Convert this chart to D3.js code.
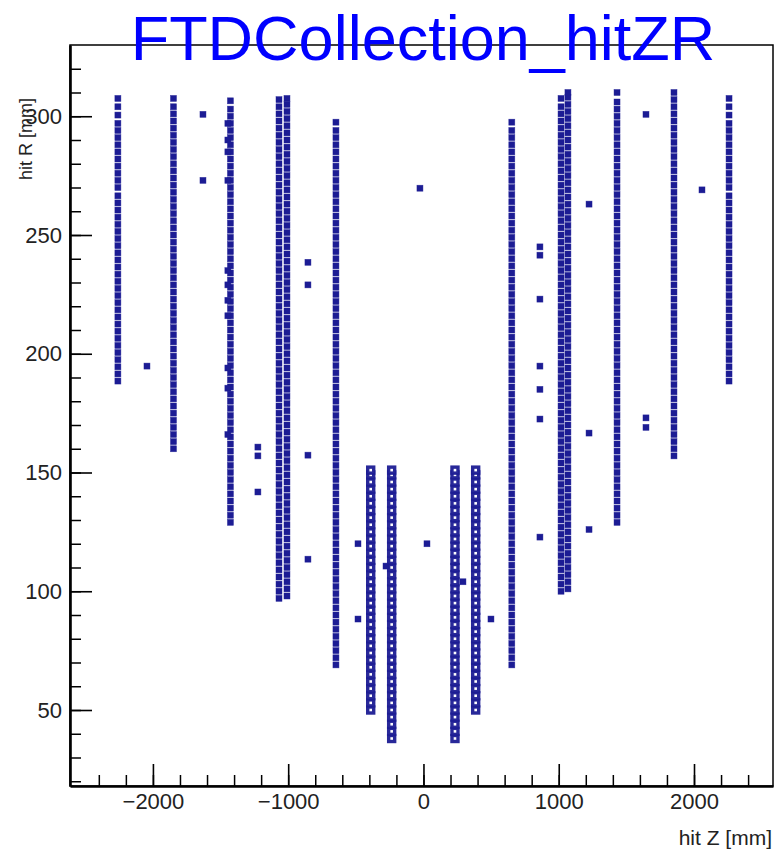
<!DOCTYPE html>
<html>
<head>
<meta charset="utf-8">
<script src="https://cdn.jsdelivr.net/npm/d3@7"></script>
<style>
body { margin: 0; background: #fff; }
text { font-family: "Liberation Sans", Arial, Helvetica, sans-serif; }
</style>
</head>
<body>
<svg id="chart" width="776" height="855"></svg>
<script>
// hit R (mm) of every marker, one list per disc column
var rA = [188.5,191.5,194.5,197.5,200.5,203.5,206.5,209.5,212.5,215.5,218.5,221.5,224.5,227.5,230.5,233.5,236.5,239.5,242.5,245.5,248.5,251.5,254.5,257.5,260.5,263.5,266.5,270,273,276,279,282,285,288,291,294,297,300.5,304,307.5];
var rB = [160,163,166,169,172,175,178,181,184,187,190,193,196,199,202,205,208,211,214,217,220,223,226,229,232,235,238,241,244,247,250,253,256,259,262,265,268,271,274,277,280,283,286,289,292,295,298,301,304,307.5];
var rC = [129,132,135,138,141,144,147,150,153,156,159,162,165,168,171,174,177,180,183,186,189,192,195,198,201,204,207,210,213,216,219,222,225,228,231,234,237,240,243,246,249,252,255,258,261,264,267,270,273,276,279,282,285,288,291,294,297,300,303,306.5];
var rCj = [166,185.5,194,216,222.5,229,235,273,285,290,297];
var rD1 = [97,100,103,106,109,112,115,118,121,124,127,130,133,136,139,142,145,148,151,154,157,160,163,166,169,172,175,178,181,184,187,190,193,196,199,202,205,208,211,214,217,220,223,226,229,232,235,238,241,244,247,250,253,256,259,262,265,268,271,274,277,280,283,286,289,292,295,298,301,304,307];
var rD2 = [98,101,104,107,110,113,116,119,122,125,128,131,134,137,140,143,146,149,152,155,158,161,164,167,170,173,176,179,182,185,188,191,194,197,200,203,206,209,212,215,218,221,224,227,230,233,236,239,242,245,248,251,254,257,260,263,266,269,272,275,278,281,284,287,290,293,296,299,302,305,307.5];
var rE = [69,72,75,78,81,84,87,90,93,96,99,102,105,108,111,114,117,120,123,126,129,132,135,138,141,144,147,150,153,156,159,162,165,168,171,174,177,180,183,186,189,192,195,198,201,204,207,210,213,216,219,222,225,228,231,234,237,240,243,246,249,252,255,258,261,264,267,270,273,276,279,282,285,288,291,294,297.5];
var rF = [50,53,56,59,62,65,68,71,74,77,80,83,86,89,92,95,98,101,104,107,110,113,116,119,122,125,128,131,134,137,140,143,146,149,151];
var rG = [38,41,44,47,50,53,56,59,62,65,68,71,74,77,80,83,86,89,92,95,98,101,104,107,110,113,116,119,122,125,128,131,134,137,140,143,146,149,151];
var rH = [38,41,44,47,50,53,56,59,62,65,68,71,74,77,80,83,86,89,92,95,98,101,104,107,110,113,116,119,122,125,128,131,134,137,140,143,146,149,151];
var rI = [50,53,56,59,62,65,68,71,74,77,80,83,86,89,92,95,98,101,104,107,110,113,116,119,122,125,128,131,134,137,140,143,146,149,151];
var rJ = [69,72,75,78,81,84,87,90,93,96,99,102,105,108,111,114,117,120,123,126,129,132,135,138,141,144,147,150,153,156,159,162,165,168,171,174,177,180,183,186,189,192,195,198,201,204,207,210,213,216,219,222,225,228,231,234,237,240,243,246,249,252,255,258,261,264,267,270,273,276,279,282,285,288,291,294,297.5];
var rK1 = [100,103,106,109,112,115,118,121,124,127,130,133,136,139,142,145,148,151,154,157,160,163,166,169,172,175,178,181,184,187,190,193,196,199,202,205,208,211,214,217,220,223,226,229,232,235,238,241,244,247,250,253,256,259,262,265,268,271,274,277,280,283,286,289,292,295,298,301,304,307.5];
var rK2 = [101,104,107,110,113,116,119,122,125,128,131,134,137,140,143,146,149,152,155,158,161,164,167,170,173,176,179,182,185,188,191,194,197,200,203,206,209,212,215,218,221,224,227,230,233,236,239,242,245,248,251,254,257,260,263,266,269,272,275,278,281,284,287,290,293,296,299,302,305,308,310];
var rL = [129,132,135,138,141,144,147,150,153,156,159,162,165,168,171,174,177,180,183,186,189,192,195,198,201,204,207,210,213,216,219,222,225,228,231,234,237,240,243,246,249,252,255,258,261,264,267,270,273,276,279,282,285,288,291,294,297,300,303,306,310];
var rM = [157,160,163,166,169,172,175,178,181,184,187,190,193,196,199,202,205,208,211,214,217,220,223,226,229,232,235,238,241,244,247,250,253,256,259,262,265,268,271,274,277,280,283,286,289,292,295,298,301,304,307,310];
var rN = [188.5,191.5,194.5,197.5,200.5,203.5,206.5,209.5,212.5,215.5,218.5,221.5,224.5,227.5,230.5,233.5,236.5,239.5,242.5,245.5,248.5,251.5,254.5,257.5,260.5,263.5,266.5,270,273,276,279,282,285,288,291,294,297,300.5,304,307.5];

// z (mm) of each column
var colZ = [-2259, -1848, -1427, -1446, -1068, -1009, -647, -390, -235, 233, 386, 653, 1017, 1068, 1431, 1852, 2259];
var colR = [rA, rB, rC, rCj, rD1, rD2, rE, rF, rG, rH, rI, rJ, rK1, rK2, rL, rM, rN];
var colOpen = [false, false, false, false, false, false, false, true, true, true, true, false, false, false, false, false, false];

// isolated hits
var strayZ = [-2044, -1630, -1630, -1224, -1224, -1224, -854, -854, -854, -854, -484, -484, -277, -26, 26, 292, 499, 861, 861, 861, 861, 861, 861, 861, 1224, 1224, 1224, 1645, 1645, 1645, 2059];
var strayR = [194.8, 300.8, 273, 160.7, 157, 141.8, 238.5, 229, 157.3, 113.5, 120, 88.3, 110.6, 269.7, 120, 104, 88.3, 245, 241.5, 223, 194.8, 185, 172.5, 122.8, 263, 166.6, 126, 300.8, 173, 169, 269];

var xMajor = [-2000, -1000, 0, 1000, 2000];
var yMajor = [50, 100, 150, 200, 250, 300];
var xMinor = d3.range(-2400, 2500, 200);
var yMinor = d3.range(20, 330, 10);

var svg = d3.select("#chart");
var padL = 70, padR = 773, padT = 45, padB = 786;

var x = d3.scaleLinear().domain([-2613, 2584]).range([padL, padR]);
var y = d3.scaleLinear().domain([18, 330]).range([padB, padT]);

var points = [];
colZ.forEach(function(z, i){
  colR[i].forEach(function(r){ points.push({z: z, r: r, open: colOpen[i]}); });
});
strayZ.forEach(function(z, i){ points.push({z: z, r: strayR[i], open: false}); });

var blue = "#1c1c94";
var ms = 6;
svg.append("g").selectAll("rect").data(points).join("rect")
  .attr("x", function(d){ return x(d.z) - ms/2; })
  .attr("y", function(d){ return y(d.r) - ms/2; })
  .attr("width", ms).attr("height", ms)
  .attr("fill", function(d){ return d.open ? "#fff" : blue; })
  .attr("stroke", blue)
  .attr("stroke-width", function(d){ return d.open ? 3.4 : 0.6; })
  .attr("stroke-opacity", function(d){ return d.open ? 0.95 : 0.7; });

// frame
svg.append("rect").attr("x", padL).attr("y", padT).attr("width", padR-padL).attr("height", padB-padT)
  .attr("fill", "none").attr("stroke", "#000").attr("stroke-width", 1.5);

// minor ticks
svg.append("g").attr("transform", "translate(" + padL + ",0)")
  .call(d3.axisLeft(y).tickValues(yMinor).tickSizeInner(-11).tickSizeOuter(0).tickFormat(""))
  .call(function(g){ g.select(".domain").remove(); g.selectAll("line").attr("stroke-width", 1.5); });
svg.append("g").attr("transform", "translate(0," + padB + ")")
  .call(d3.axisBottom(x).tickValues(xMinor).tickSizeInner(-11).tickSizeOuter(0).tickFormat(""))
  .call(function(g){ g.select(".domain").remove(); g.selectAll("line").attr("stroke-width", 1.5); });

// major ticks and labels
var yAxis = svg.append("g").attr("transform", "translate(" + padL + ",0)")
  .call(d3.axisLeft(y).tickValues(yMajor).tickSizeInner(-22).tickSizeOuter(0).tickPadding(8).tickFormat(d3.format("d")));
var xAxis = svg.append("g").attr("transform", "translate(0," + padB + ")")
  .call(d3.axisBottom(x).tickValues(xMajor).tickSizeInner(-22).tickSizeOuter(0).tickPadding(7).tickFormat(d3.format("d")));
[yAxis, xAxis].forEach(function(g){
  g.select(".domain").attr("stroke-width", 2.6);
  g.selectAll("line").attr("stroke-width", 1.6);
  g.selectAll("text").attr("font-size", 22).attr("fill", "#222")
    .attr("font-family", "'Liberation Sans', Arial, sans-serif");
});

// titles
svg.append("text").attr("x", 423).attr("y", 60).attr("text-anchor", "middle")
  .attr("font-size", 63).attr("fill", "#0000ff").text("FTDCollection_hitZR");
svg.append("text").attr("x", 772).attr("y", 845).attr("text-anchor", "end")
  .attr("font-size", 21).attr("fill", "#222").text("hit Z [mm]");
svg.append("text").attr("transform", "translate(32,98) rotate(-90)").attr("text-anchor", "end")
  .attr("font-size", 18).attr("fill", "#222").text("hit R [mm]");
</script>
</body>
</html>
